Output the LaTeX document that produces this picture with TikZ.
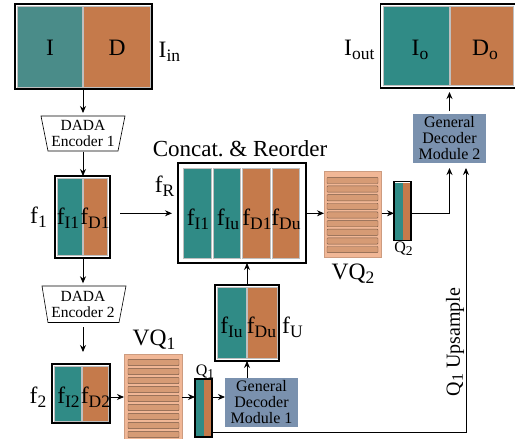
\documentclass[tikz,border=0pt]{standalone}
\usepackage{fontspec}
\setmainfont{Liberation Serif}
\usetikzlibrary{arrows.meta,calc}
\definecolor{tealA}{RGB}{74,140,137}
\definecolor{tealc}{RGB}{48,139,134}
\definecolor{orac}{RGB}{197,122,75}
\definecolor{vqfill}{RGB}{241,183,150}
\definecolor{vqstripe}{RGB}{214,155,117}
\definecolor{vqline}{RGB}{120,90,70}
\definecolor{gdmc}{RGB}{122,145,174}
\newcommand\bsb[1]{\raisebox{-4pt}{\fontsize{17.5}{18}\selectfont #1}}
\newcommand\ssb[1]{\raisebox{-3pt}{\fontsize{13.5}{14}\selectfont #1}}
\newcommand\usb[1]{\raisebox{-3pt}{\fontsize{16}{16}\selectfont #1}}
\begin{document}
\begin{tikzpicture}[x=1pt,y=-1pt,
  frame/.style={draw=black, line width=1.1pt, inner sep=0pt, outer sep=0pt},
  colbox/.style={draw=black!25, line width=0.4pt},
  arr/.style={-{Stealth[length=7pt,width=6pt]}, line width=0.9pt},
  big/.style={font=\fontsize{23.5}{24}\selectfont, inner sep=0pt},
  sml/.style={font=\fontsize{16}{16}\selectfont, inner sep=0pt},
  encbox/.style={inner sep=0pt, outer sep=0pt, minimum width=84pt, minimum height=36pt, font=\fontsize{15.5}{16}\selectfont, align=center},
  gdm/.style={fill=gdmc, inner sep=0pt, outer sep=0pt, minimum width=73pt, minimum height=49pt, font=\fontsize{16}{16}\selectfont, align=center},
  vqbox/.style={fill=vqfill, draw=vqfill!85!black, line width=0.4pt, inner sep=0pt, outer sep=0pt},
  stripe/.style={fill=vqstripe, draw=vqline, line width=0.45pt, rounded corners=0.8pt}
]
\useasboundingbox (0,0) rectangle (515,439);
\clip (0,0) rectangle (515,439);

\coordinate (row1) at (0,397);
\coordinate (row2) at (0,213.3);
\coordinate (up1) at (466,432.3);

% ---------- I_in ----------
\fill[tealA,colbox] (17,6.5) rectangle (82.5,87);
\fill[orac,colbox] (83.5,6.5) rectangle (150,87);
\node[frame, minimum width=137pt, minimum height=85pt] (Iin) at (83.5,46.5) {};
\node[big, anchor=base] (tI) at (50,55.5) {I};
\node[big, anchor=base] (tD) at (117,55.5) {D};
\node[big, anchor=base west] (tIin) at (158.5,57.5) {I\bsb{in}};

% ---------- Encoder 1 ----------
\draw[line width=0.6pt] (41,116) -- (125,116) -- (118,151) -- (48,151) -- cycle;
\node[encbox] (enc1) at (83,133.5) {DADA\\Encoder 1};

% ---------- f1 ----------
\fill[tealc,colbox] (57.5,178.5) rectangle (82.2,255.5);
\fill[orac,colbox] (83.2,178.5) rectangle (107.5,255.5);
\node[frame, minimum width=55pt, minimum height=82pt] (f1) at (82.5,217) {};
\node[big, anchor=base] (tfI1) at (68,224) {f\bsb{I1}};
\node[big, anchor=base] (tfD1) at (95,224) {f\bsb{D1}};
\node[big, anchor=base] (tf1) at (38.5,223) {f\bsb{1}};

% ---------- Encoder 2 ----------
\draw[line width=0.6pt] (42,286) -- (126,286) -- (119,322.5) -- (48,322.5) -- cycle;
\node[encbox] (enc2) at (83,304.3) {DADA\\Encoder 2};

% ---------- f2 ----------
\fill[tealc,colbox] (54.5,366.5) rectangle (81.2,421);
\fill[orac,colbox] (82.2,366.5) rectangle (108,421);
\node[frame, minimum width=58pt, minimum height=59pt] (f2) at (81,393.5) {};
\node[big, anchor=base] (tfI2) at (68.5,403) {f\bsb{I2}};
\node[big, anchor=base] (tfD2) at (95.5,403) {f\bsb{D2}};
\node[big, anchor=base] (tf2) at (38,403) {f\bsb{2}};

% ---------- VQ1 ----------
\node[vqbox, minimum width=58pt, minimum height=92pt] (VQ1) at (153,400) {};
\foreach \i in {0,...,8}
  \draw[stripe] (128,359.3+9*\i) rectangle (179,365.6+9*\i);
\node[big, anchor=base] (tVQ1) at (154,345) {VQ\bsb{1}};

% ---------- Q1 ----------
\fill[tealc] (195.5,379.5) rectangle (203.5,436.5);
\fill[orac] (203.5,379.5) rectangle (211.5,436.5);
\node[frame, minimum width=17pt, minimum height=58pt] (Q1) at (203.5,408) {};
\node[sml, anchor=base] (tQ1) at (205,375) {Q\ssb{1}};

% ---------- GDM1 ----------
\node[gdm] (gdm1) at (261.5,402.5) {General\\Decoder\\Module 1};

% ---------- fU ----------
\fill[tealc,colbox] (217,287.5) rectangle (246.5,358.5);
\fill[orac,colbox] (247.5,287.5) rectangle (277,358.5);
\node[frame, minimum width=64pt, minimum height=76pt] (fU) at (247,323) {};
\node[big, anchor=base] (tfIu) at (231.5,333) {f\bsb{Iu}};
\node[big, anchor=base] (tfDu) at (261.5,333) {f\bsb{Du}};
\node[big, anchor=base west] (tfU) at (282,333) {f\bsb{U}};

% ---------- Concat ----------
\fill[tealc,colbox] (183,168.5) rectangle (211,258);
\fill[tealc,colbox] (213,168.5) rectangle (240.5,258);
\fill[orac,colbox] (242.5,168.5) rectangle (270,258);
\fill[orac,colbox] (272,168.5) rectangle (299.5,258);
\node[frame, minimum width=128pt, minimum height=100pt] (concat) at (242,213) {};
\node[big, anchor=base] (tcI1) at (198,225) {f\bsb{I1}};
\node[big, anchor=base] (tcIu) at (228,225) {f\bsb{Iu}};
\node[big, anchor=base] (tcD1) at (257,225) {f\bsb{D1}};
\node[big, anchor=base] (tcDu) at (286,225) {f\bsb{Du}};
\node[font=\fontsize{23}{24}\selectfont, inner sep=0pt, anchor=base] (tcat) at (240,156) {Concat.\ \& Reorder};
\node[big, anchor=base] (tfR) at (164.5,192) {f\bsb{R}};

% ---------- VQ2 ----------
\node[vqbox, minimum width=57.5pt, minimum height=85.5pt] (VQ2) at (352.75,214.25) {};
\foreach \i in {0,...,8}
  \draw[stripe] (327,177.3+8.65*\i) rectangle (378,183.5+8.65*\i);
\node[big, anchor=base] (tVQ2) at (353,279) {VQ\bsb{2}};

% ---------- Q2 ----------
\fill[tealc] (394.5,182.5) rectangle (402.5,239.5);
\fill[orac] (402.5,182.5) rectangle (410.5,239.5);
\node[frame, minimum width=17pt, minimum height=58.5pt] (Q2) at (402.5,211) {};
\node[sml, anchor=base] (tQ2) at (403.5,252) {Q\ssb{2}};

% ---------- GDM2 ----------
\node[gdm] (gdm2) at (449.5,138.5) {General\\Decoder\\Module 2};

% ---------- I_out ----------
\fill[tealc,colbox] (383.5,6.5) rectangle (449.5,85.5);
\fill[orac,colbox] (450.5,6.5) rectangle (513,85.5);
\node[frame, minimum width=135pt, minimum height=84pt] (Iout) at (448,46) {};
\node[big, anchor=base] (tIo) at (420,56) {I\bsb{o}};
\node[big, anchor=base] (tDo) at (485,56) {D\bsb{o}};
\node[big, anchor=base west] (tIout) at (344,56) {I\bsb{out}};

% ---------- Q1 Upsample label ----------
\node[font=\fontsize{20}{20}\selectfont, inner sep=0pt, rotate=90] (tups) at (455,342) {Q\usb{1} Upsample};

% ---------- connectors ----------
\draw[arr, shorten >=2.5pt] (Iin.south -| enc1.north) -- (enc1.north);
\draw[arr] (enc1.south) -- (enc1.south |- f1.north);
\draw[arr, shorten >=3pt] (enc1.south |- f1.south) -- (enc2.north);
\draw[arr, shorten <=5pt, shorten >=12pt] (enc2.south) -- (enc2.south |- f2.north);
\draw[arr] (f2.east |- row1) -- (VQ1.west |- row1);
\draw[arr] (VQ1.east |- row1) -- (Q1.west |- row1);
\draw[arr] (Q1.east |- row1) -- (gdm1.west |- row1);
\draw[arr] (fU.south |- gdm1.north) -- (fU.south);
\draw[arr] (fU.north) -- (fU.north |- concat.south);
\draw[arr, shorten <=10pt, shorten >=6pt] (f1.east |- row2) -- (concat.west |- row2);
\draw[arr] (concat.east |- row2) -- (VQ2.west |- row2);
\draw[arr] (VQ2.east |- row2) -- (Q2.west |- row2);
\draw[arr, shorten >=5pt] (Q2.east |- row2) -| (gdm2.south);
\draw[arr, shorten <=3pt, shorten >=4pt] (gdm2.north) -- (gdm2.north |- Iout.south);
\draw[arr, shorten >=5pt] (Q1.east |- up1) -- (up1) -- (up1 |- gdm2.south);
\end{tikzpicture}
\end{document}
